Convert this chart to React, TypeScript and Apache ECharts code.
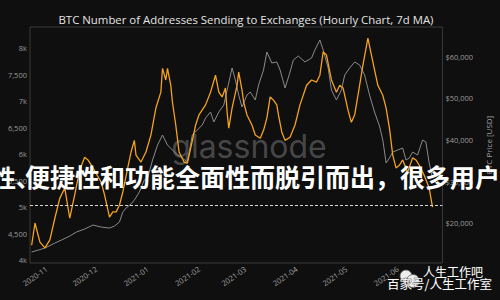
import React, { useEffect, useRef } from "react";
import * as echarts from "echarts";

const TITLE = "BTC Number of Addresses Sending to Exchanges (Hourly Chart, 7d MA)";
const RIGHT_AXIS_NAME = "BTC Price [USD]";
const WATERMARK = "glassnode";
const OVERLAY_HEAD = "性、";
const OVERLAY_TEXT = "便捷性和功能全面性而脱引而出，很多用户";
const BADGE_TOP = "人生工作吧";
const BADGE_BOTTOM = "百家号/人生工作室";

const X_MIN = "2020-10-22";
const X_MAX = "2021-06-28";
const MONTH_TICKS = ["2020-11-01", "2020-12-01", "2021-01-01", "2021-02-01", "2021-03-01", "2021-04-01", "2021-05-01", "2021-06-01"];
const LEFT_TICKS = [4000, 4500, 5000, 5500, 6000, 6500, 7000, 7500, 8000];
const RIGHT_TICKS = [20000, 30000, 40000, 50000, 60000];
const THRESHOLD = 5040;

const addrDates = [
  "2020-10-23","2020-10-25","2020-10-28","2020-10-31","2020-11-03","2020-11-06","2020-11-09","2020-11-12","2020-11-15","2020-11-18",
  "2020-11-21","2020-11-24","2020-11-26","2020-11-29","2020-12-04","2020-12-06","2020-12-09","2020-12-11","2020-12-13","2020-12-15",
  "2020-12-17","2020-12-20","2020-12-22","2020-12-24","2020-12-25","2020-12-28","2020-12-31","2021-01-03","2021-01-06","2021-01-09",
  "2021-01-10","2021-01-12","2021-01-13","2021-01-15","2021-01-16","2021-01-18","2021-01-20","2021-01-23","2021-01-25","2021-01-27",
  "2021-01-30","2021-02-01","2021-02-05","2021-02-08","2021-02-11","2021-02-13","2021-02-15","2021-02-17","2021-02-18","2021-02-19",
  "2021-02-21","2021-02-24","2021-02-25","2021-02-27","2021-02-28","2021-03-02","2021-03-05","2021-03-07","2021-03-10","2021-03-12",
  "2021-03-14","2021-03-16","2021-03-18","2021-03-20","2021-03-21","2021-03-23","2021-03-25","2021-03-28","2021-03-31","2021-04-03",
  "2021-04-07","2021-04-10","2021-04-13","2021-04-15","2021-04-17","2021-04-19","2021-04-22","2021-04-25","2021-04-27","2021-04-29",
  "2021-05-02","2021-05-04","2021-05-06","2021-05-08","2021-05-11","2021-05-14","2021-05-17","2021-05-20","2021-05-23","2021-05-25",
  "2021-05-27","2021-05-29","2021-05-31","2021-06-02","2021-06-04","2021-06-07","2021-06-10","2021-06-12","2021-06-14","2021-06-17",
  "2021-06-20","2021-06-22"
];
const addrValues = [
  4280,4700,4340,4230,4380,4790,5170,5360,4790,5230,
  5700,5940,5890,5740,5470,5230,4810,4910,4910,5040,
  5280,5740,6040,6260,5980,5850,6040,6360,6870,7170,
  7620,7400,7620,7300,6980,6550,6040,5850,5830,6110,
  6550,6740,6930,7170,7490,7170,7080,7250,6790,6490,
  6870,7300,7550,7210,6980,6740,6550,6360,6300,6450,
  6680,7080,7020,6930,6740,6420,6260,6320,6550,6930,
  7300,7400,7360,7490,7930,7870,7400,7170,7300,7250,
  6830,6600,6740,7110,7680,8190,7740,7300,7110,6870,
  6490,5980,5740,5790,5890,5660,5930,5890,5790,5600,
  5360,5000
];

const priceDates = [
  "2020-10-23","2020-10-27","2020-10-31","2020-11-06","2020-11-10","2020-11-15","2020-11-19","2020-11-24","2020-11-29","2020-12-04",
  "2020-12-09","2020-12-12","2020-12-15","2020-12-17","2020-12-19","2020-12-22","2020-12-24","2020-12-27","2020-12-30","2021-01-01",
  "2021-01-04","2021-01-07","2021-01-10","2021-01-13","2021-01-16","2021-01-19","2021-01-22","2021-01-25","2021-01-28","2021-01-31",
  "2021-02-03","2021-02-05","2021-02-08","2021-02-10","2021-02-13","2021-02-16","2021-02-18","2021-02-21","2021-02-23","2021-02-25",
  "2021-02-27","2021-03-02","2021-03-04","2021-03-07","2021-03-09","2021-03-12","2021-03-14","2021-03-17","2021-03-20","2021-03-22",
  "2021-03-25","2021-03-28","2021-03-30","2021-04-02","2021-04-06","2021-04-10","2021-04-12","2021-04-15","2021-04-17","2021-04-20",
  "2021-04-22","2021-04-25","2021-04-28","2021-04-30","2021-05-03","2021-05-06","2021-05-09","2021-05-12","2021-05-15","2021-05-18",
  "2021-05-21","2021-05-23","2021-05-25","2021-05-27","2021-05-29","2021-06-01","2021-06-04","2021-06-06","2021-06-08","2021-06-10",
  "2021-06-13","2021-06-16","2021-06-18","2021-06-20","2021-06-22"
];
const priceValues = [
  13050,13530,14010,15210,15930,16900,17860,18580,19540,19060,
  18820,19300,20260,22660,23630,24590,25550,27470,30360,30840,
  35170,38770,41180,38770,37570,36370,35650,34690,41180,42380,
  43590,45270,46710,44310,46710,48390,51990,57280,54400,50790,
  47910,50790,51510,49590,53200,56800,61130,58490,58730,56800,
  52470,56320,59210,60170,58730,59690,61610,64010,61610,57280,
  51990,49590,51990,55600,57280,58730,58000,55600,50790,46710,
  43340,39980,34450,35650,37090,37570,38050,35170,35650,37090,
  36370,39980,39500,34450,30840
];

const ts = (s: string) => new Date(s + "T00:00:00").getTime();
const pad = (n: number) => (n < 10 ? "0" + n : "" + n);

export default function App() {
  const ref = useRef<HTMLDivElement>(null);
  useEffect(() => {
    if (!ref.current) return;
    const chart = echarts.init(ref.current, null, { renderer: "svg" });
    const font = "Open Sans";
    chart.setOption({
      animation: false,
      backgroundColor: "#0f0f0f",
      title: {
        text: TITLE,
        left: 241,
        top: 9,
        textAlign: "center",
        textStyle: { color: "#e4e4e4", fontSize: 11.4, fontWeight: "normal", fontFamily: font },
      },
      grid: {
        left: 30,
        right: 48,
        top: 27,
        bottom: 37,
        show: true,
        borderColor: "#3a3a3a",
        borderWidth: 1,
        backgroundColor: "transparent",
      },
      xAxis: {
        type: "value",
        min: ts(X_MIN),
        max: ts(X_MAX),
        axisLine: { show: false },
        axisTick: { show: false },
        splitLine: { show: false },
        axisLabel: {
          customValues: MONTH_TICKS.map(ts),
          rotate: 35,
          margin: 5,
          fontSize: 7.5,
          color: "#a0a0a0",
          fontFamily: font,
          formatter: (v: number) => {
            const d = new Date(v);
            return d.getFullYear() + "-" + pad(d.getMonth() + 1);
          },
        },
      },
      yAxis: [
        {
          type: "value",
          min: 3945,
          max: 8400,
          position: "left",
          axisLine: { show: false },
          axisTick: { show: false },
          splitLine: { show: false },
          axisLabel: {
            customValues: LEFT_TICKS,
            margin: 3,
            fontSize: 7.5,
            color: "#9a9a9a",
            fontFamily: font,
            formatter: (v: number) => (v % 1000 === 0 ? v / 1000 + "k" : v.toLocaleString("en-US")),
          },
        },
        {
          type: "value",
          min: 10420,
          max: 67140,
          position: "right",
          name: RIGHT_AXIS_NAME,
          nameLocation: "middle",
          nameRotate: 90,
          nameGap: 35,
          nameTextStyle: { color: "#a0a0a0", fontSize: 8, fontFamily: font },
          axisLine: { show: false },
          axisTick: { show: false },
          splitLine: { show: false },
          axisLabel: {
            customValues: RIGHT_TICKS,
            margin: 3,
            fontSize: 7.5,
            color: "#9a9a9a",
            fontFamily: font,
            formatter: (v: number) => "$" + v.toLocaleString("en-US"),
          },
        },
      ],
      series: [
        {
          type: "line",
          name: "BTC Price",
          yAxisIndex: 1,
          showSymbol: false,
          data: priceDates.map((d, i) => [ts(d), priceValues[i]]),
          lineStyle: { color: "#8a8a8a", width: 1 },
          z: 2,
        },
        {
          type: "line",
          name: "Addresses",
          yAxisIndex: 0,
          showSymbol: false,
          data: addrDates.map((d, i) => [ts(d), addrValues[i]]),
          lineStyle: { color: "#f5a21e", width: 1.3 },
          z: 3,
          markLine: {
            symbol: "none",
            silent: true,
            label: { show: false },
            lineStyle: { color: "#d6d6d6", type: [3, 2], width: 1 },
            data: [{ yAxis: THRESHOLD }],
          },
        },
      ],
      graphic: [
        {
          type: "text",
          z: 0,
          style: {
            text: WATERMARK,
            x: 249,
            y: 146,
            align: "center",
            verticalAlign: "middle",
            fontSize: 32,
            fontFamily: "Inter",
            fill: "rgba(120,120,120,0.55)",
          },
        },
        {
          type: "text",
          z: 100,
          style: {
            text: OVERLAY_HEAD,
            x: -8,
            y: 176,
            verticalAlign: "middle",
            fontSize: 24,
            fontWeight: "bold",
            fontFamily: "Noto Sans CJK SC",
            fill: "#ffffff",
          },
        },
        {
          type: "text",
          z: 100,
          style: {
            text: OVERLAY_TEXT,
            x: 25,
            y: 176,
            verticalAlign: "middle",
            fontSize: 25,
            fontWeight: "bold",
            fontFamily: "Noto Sans CJK SC",
            fill: "#ffffff",
          },
        },
        {
          type: "circle",
          z: 100,
          shape: { cx: 406, cy: 276, r: 6 },
          style: { fill: "#eeeeee", stroke: "#555555", lineWidth: 0.8 },
        },
        {
          type: "circle",
          z: 101,
          shape: { cx: 413, cy: 281, r: 6.5 },
          style: { fill: "#eeeeee", stroke: "#555555", lineWidth: 0.8 },
        },
        {
          type: "text",
          z: 102,
          style: {
            text: BADGE_TOP,
            x: 423,
            y: 271,
            verticalAlign: "middle",
            fontSize: 12,
            fontFamily: "Noto Sans CJK SC",
            fill: "#ffffff",
            stroke: "#222222",
            lineWidth: 0.6,
          },
        },
        {
          type: "text",
          z: 102,
          style: {
            text: BADGE_BOTTOM,
            x: 387,
            y: 283,
            verticalAlign: "middle",
            fontSize: 12.5,
            fontFamily: "Noto Sans CJK SC",
            fill: "#ffffff",
            stroke: "#222222",
            lineWidth: 0.6,
          },
        },
      ],
    });
    return () => chart.dispose();
  }, []);
  return (
    <div
      ref={ref}
      style={{ position: "fixed", left: 0, top: 0, width: 500, height: 300, background: "#0f0f0f" }}
    />
  );
}
